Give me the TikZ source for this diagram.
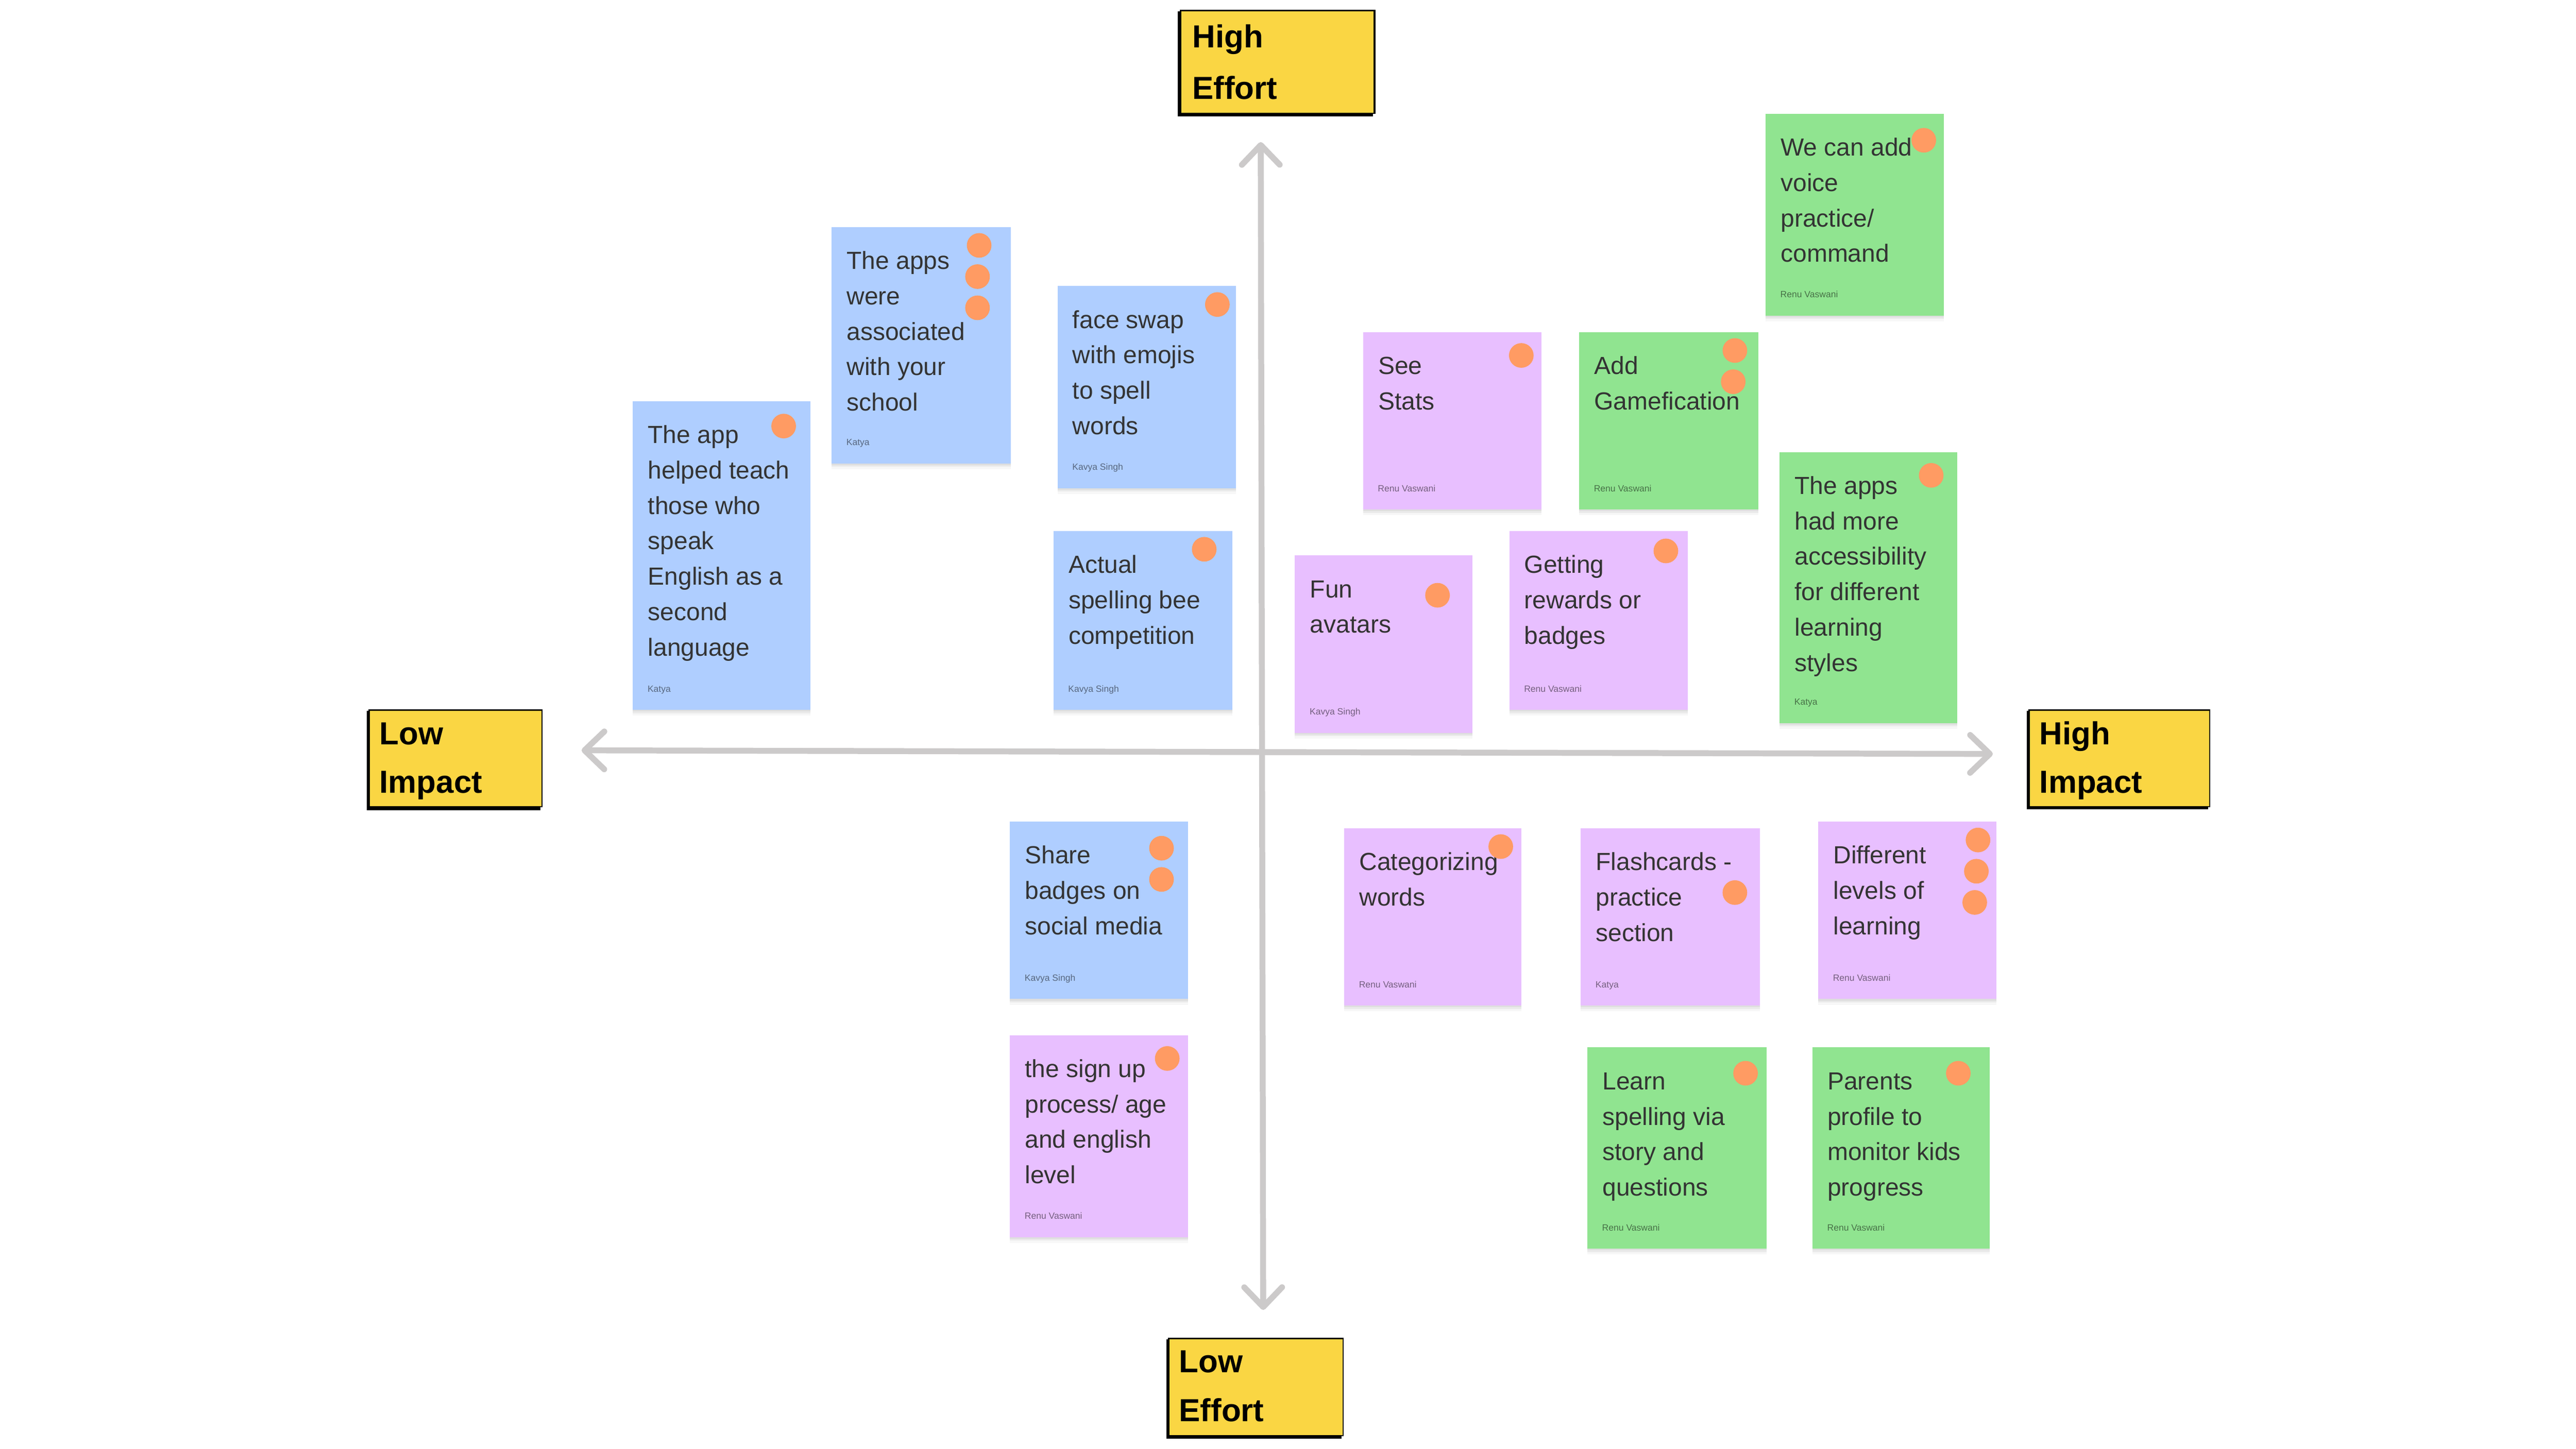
\documentclass[tikz,border=0pt]{standalone}
\usepackage{fontspec}
\setmainfont{Liberation Sans}
\usetikzlibrary{arrows.meta,shadows}
\definecolor{cblue}{HTML}{AFCEFF}
\definecolor{cpurple}{HTML}{E8BFFF}
\definecolor{cgreen}{HTML}{90E490}
\definecolor{cyellow}{HTML}{FAD643}
\definecolor{cdot}{HTML}{FF9B63}
\definecolor{cink}{HTML}{333333}
\definecolor{caxis}{HTML}{CCCACA}
\tikzset{
  stickynote/.style={rectangle,inner sep=0pt,anchor=north west,draw=none,
    drop shadow={shadow xshift=0pt,shadow yshift=-3.5pt,opacity=.03,fill=black},
    drop shadow={shadow xshift=0pt,shadow yshift=-2pt,opacity=.05,fill=black},
    drop shadow={shadow xshift=0pt,shadow yshift=-1pt,opacity=.05,fill=black}},
  bodytext/.style={inner sep=0pt,anchor=north west,align=left,text=cink,font=\fontsize{15.05}{21.6}\selectfont},
  authortext/.style={inner sep=0pt,anchor=base west,text=black,text opacity=.5,font=\fontsize{5.5}{7}\selectfont},
  votedot/.style={circle,fill=cdot,inner sep=0pt,minimum size=15pt},
  axisline/.style={draw=caxis,line width=3.6pt,{Straight Barb[length=12pt,width=23pt,round]}-{Straight Barb[length=12pt,width=23pt,round]}},
  labeltext/.style={inner sep=0pt,anchor=base west,text=black,font=\bfseries\fontsize{19.4}{24}\selectfont},
  labelbox/.style={rectangle,inner sep=0pt,anchor=north west,fill=cyellow},
  labelback/.style={rectangle,inner sep=0pt,anchor=north west,fill=black}
}
% name, x0, y0, x1, y1, colour, text, author
\newcommand{\mycard}[8]{%
  \node[stickynote,fill=#6,minimum width={(#4-#2)*1pt},minimum height={(#5-#3)*1pt}] (#1) at (#2,#3) {};
  \node[bodytext] (#1t) at (#2+9.2,#3+11.6) {\rule{0pt}{14pt}#7};
  \node[authortext] (#1a) at (#2+9,#5-10.8) {#8};
}
\newcommand{\myvote}[3]{\node[votedot] (#1) at (#2,#3+.4) {};}
% name, yellow x0,y0,x1,y1, black x0,y0,x1,y1, text x, baseline1, baseline2, line1, line2
\newcommand{\mylabel}[9]{%
  \def\lbname{#1}\def\lbxa{#2}\def\lbya{#3}\def\lbxb{#4}\def\lbyb{#5}%
  \def\lbbxa{#6}\def\lbbya{#7}\def\lbbxb{#8}\def\lbbyb{#9}\mylabelb}
\newcommand{\mylabelb}[5]{%
  \node[labelback,minimum width={(\lbxb+1-\lbbxa-1.5)*1pt},minimum height={(\lbbyb-\lbya)*1pt}] (\lbname s1) at (\lbbxa,\lbya) {};
  \node[labelback,minimum width={(\lbbxb-\lbxa+1)*1pt},minimum height={(\lbyb+.8-\lbbya)*1pt}] (\lbname s2) at (\lbxa-1,\lbbya) {};
  \node[labelbox,minimum width={(\lbxb-\lbxa)*1pt},minimum height={(\lbyb-\lbya)*1pt}] (\lbname) at (\lbxa,\lbya) {};
  \node[labeltext] (\lbname a) at (#1,#2) {#4};
  \node[labeltext] (\lbname b) at (#1,#3) {#5};
}
\begin{document}
\begin{tikzpicture}[x=1pt,y=-1pt]
\useasboundingbox (0,0) rectangle (1568,882);
\fill[white] (0,0) rectangle (1568,882);
% axes
\coordinate (top) at (767.4,86.5);
\coordinate (bot) at (768.9,797.5);
\coordinate (lft) at (354,456.8);
\coordinate (rgt) at (1213,459);
\draw[axisline] (lft) -- (rgt);
\draw[axisline] (top) -- (bot);
% labels
\mylabel{he}{719}{6.6}{836}{68.4}{716.8}{5.7}{837}{70.8}{725.6}{28.9}{60.3}{High}{Effort}
\mylabel{li}{224.9}{432.6}{329.4}{490.5}{223}{431.5}{330.1}{493}{230.8}{453.3}{482.9}{Low}{Impact}
\mylabel{hi}{1235.5}{432.6}{1344.5}{490.5}{1233.6}{431.7}{1345}{492.5}{1241.3}{453.3}{482.9}{High}{Impact}
\mylabel{le}{711.6}{815}{816.9}{873.4}{709.8}{814.3}{817.8}{875.8}{717.5}{835.7}{865.4}{Low}{Effort}
% blue
\mycard{c1}{385}{244}{493}{432}{cblue}{The app\\helped teach\\those who\\speak\\English as a\\second\\language}{Katya}
\myvote{c1d}{477}{259}
\mycard{c2}{506}{138}{615}{282}{cblue}{The apps\\were\\associated\\with your\\school}{Katya}
\myvote{c2d}{596}{149}\myvote{c2e}{595}{168}\myvote{c2f}{595}{187}
\mycard{c3}{643.5}{174}{752}{297}{cblue}{face swap\\with emojis\\to spell\\words}{Kavya Singh}
\myvote{c3d}{741}{185}
\mycard{c4}{641}{323}{750}{432}{cblue}{Actual\\spelling bee\\competition}{Kavya Singh}
\myvote{c4d}{733}{334}
\mycard{c5}{614.5}{500}{723}{608}{cblue}{Share\\badges on\\social media}{Kavya Singh}
\myvote{c5d}{707}{516}\myvote{c5e}{707}{535}
% purple
\mycard{c6}{829.5}{202}{938}{310}{cpurple}{See\\Stats}{Renu Vaswani}
\myvote{c6d}{926}{216}
\mycard{c7}{788}{338}{896}{446}{cpurple}{Fun\\avatars}{Kavya Singh}
\myvote{c7d}{875}{362}
\mycard{c8}{918.5}{323}{1027}{432}{cpurple}{Getting\\rewards or\\badges}{Renu Vaswani}
\myvote{c8d}{1014}{335}
\mycard{c9}{818}{504}{926}{612}{cpurple}{Categorizing\\words}{Renu Vaswani}
\myvote{c9d}{913.5}{515}
\mycard{c10}{962}{504}{1071}{612}{cpurple}{Flashcards -\\practice\\section}{Katya}
\myvote{c10d}{1056}{543}
\mycard{c11}{1106.5}{500}{1215}{608}{cpurple}{Different\\levels of\\learning}{Renu Vaswani}
\myvote{c11d}{1204}{511}\myvote{c11e}{1203}{530}\myvote{c11f}{1202}{549}
\mycard{c12}{614.5}{630}{723}{753}{cpurple}{the sign up\\process/ age\\and english\\level}{Renu Vaswani}
\myvote{c12d}{710.5}{644}
% green
\mycard{c13}{1074.5}{69}{1183}{192}{cgreen}{We can add\\voice\\practice/\\command}{Renu Vaswani}
\myvote{c13d}{1171}{85}
\mycard{c14}{961}{202}{1070}{310}{cgreen}{Add\\Gamefication}{Renu Vaswani}
\myvote{c14d}{1056}{213}\myvote{c14e}{1055}{232}
\mycard{c15}{1083}{275}{1191}{440}{cgreen}{The apps\\had more\\accessibility\\for different\\learning\\styles}{Katya}
\myvote{c15d}{1175.5}{289}
\mycard{c16}{966}{637.5}{1075}{760}{cgreen}{Learn\\spelling via\\story and\\questions}{Renu Vaswani}
\myvote{c16d}{1062.5}{653}
\mycard{c17}{1103}{637.5}{1211}{760}{cgreen}{Parents\\profile to\\monitor kids\\progress}{Renu Vaswani}
\myvote{c17d}{1192}{653}
\end{tikzpicture}
\end{document}
